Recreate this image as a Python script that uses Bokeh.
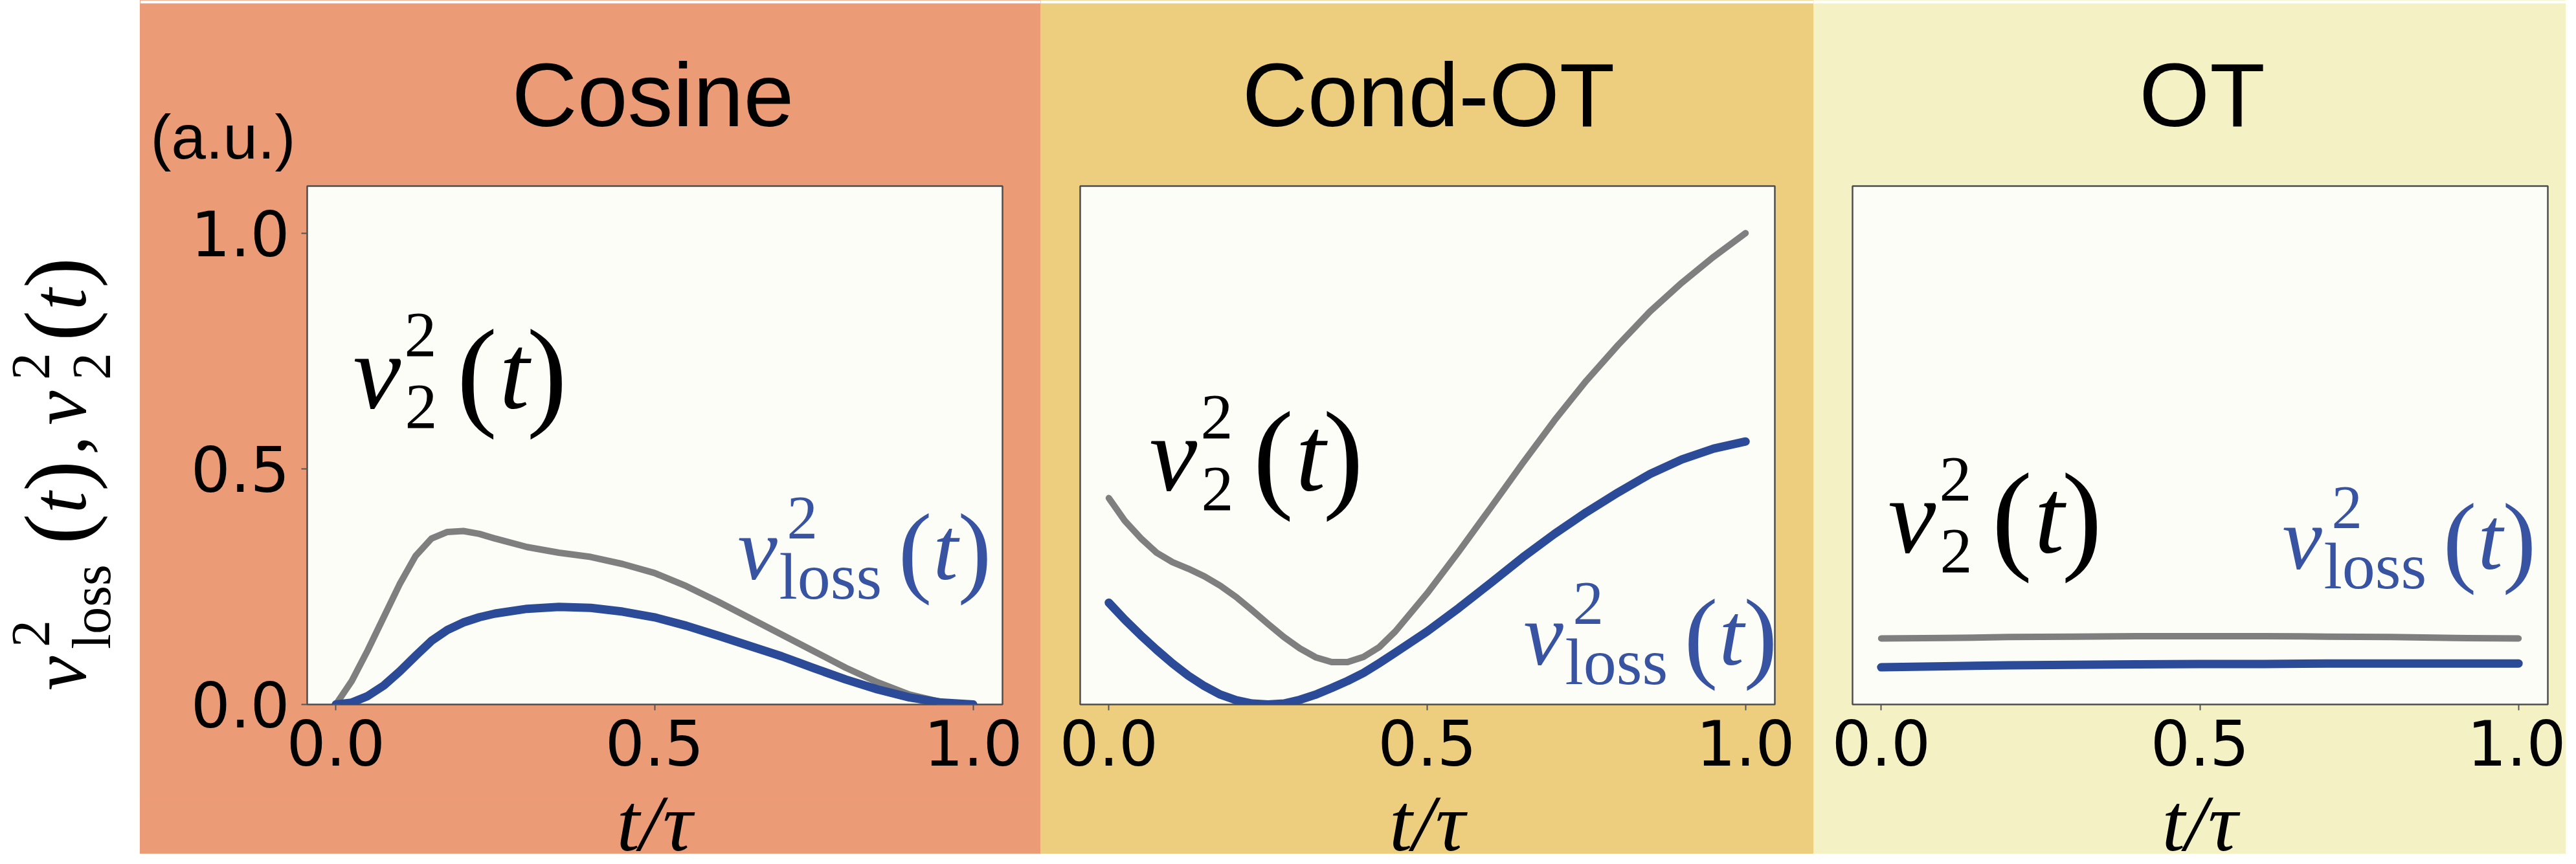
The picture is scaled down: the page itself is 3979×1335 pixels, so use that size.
from bokeh.plotting import figure
from bokeh.models import Label, Range1d, FixedTicker, Div, Spacer
from bokeh.layouts import row, column
from bokeh.embed import file_html
from bokeh.resources import INLINE

# ------------------------------------------------------------------ data
panel_titles = ["Cosine", "Cond-OT", "OT"]

t_cos = [0, 0.025, 0.05, 0.075, 0.1, 0.125, 0.15, 0.175, 0.2, 0.225, 0.25, 0.3, 0.35,
         0.4, 0.45, 0.5, 0.55, 0.6, 0.65, 0.7, 0.75, 0.8, 0.85, 0.9, 0.95, 1.0]
v2_cos = [0.0, 0.05, 0.115, 0.185, 0.255, 0.315, 0.352, 0.366, 0.368, 0.362, 0.352, 0.334, 0.322,
          0.313, 0.298, 0.279, 0.251, 0.218, 0.183, 0.148, 0.113, 0.078, 0.047, 0.021, 0.005, 0.0]
vloss_cos = [0.0, 0.004, 0.018, 0.04, 0.07, 0.103, 0.135, 0.158, 0.174, 0.185, 0.193, 0.203, 0.207,
             0.205, 0.197, 0.185, 0.167, 0.146, 0.124, 0.102, 0.077, 0.053, 0.032, 0.015, 0.004, 0.0]

t_cot = [0, 0.025, 0.05, 0.075, 0.1, 0.125, 0.15, 0.175, 0.2, 0.225, 0.25, 0.275, 0.3, 0.325,
         0.35, 0.375, 0.4, 0.425, 0.45, 0.5, 0.55, 0.6, 0.65, 0.7, 0.75, 0.8, 0.85, 0.9, 0.95, 1.0]
v2_cot = [0.438, 0.39, 0.353, 0.322, 0.302, 0.288, 0.272, 0.252, 0.228, 0.2, 0.171, 0.143, 0.119, 0.1,
          0.09, 0.09, 0.101, 0.122, 0.155, 0.236, 0.325, 0.418, 0.512, 0.603, 0.687, 0.763, 0.834,
          0.895, 0.95, 1.0]
vloss_cot = [0.216, 0.18, 0.147, 0.116, 0.087, 0.061, 0.039, 0.021, 0.009, 0.002, 0.0, 0.002, 0.01,
             0.021, 0.035, 0.05, 0.067, 0.088, 0.11, 0.155, 0.205, 0.258, 0.312, 0.362, 0.408, 0.45,
             0.489, 0.52, 0.543, 0.558]

t_ot = [0.0, 0.1, 0.2, 0.3, 0.4, 0.5, 0.6, 0.7, 0.8, 0.9, 1.0]
v2_ot = [0.140, 0.141, 0.143, 0.144, 0.145, 0.145, 0.145, 0.144, 0.143, 0.141, 0.140]
vloss_ot = [0.079, 0.081, 0.083, 0.084, 0.085, 0.086, 0.086, 0.087, 0.087, 0.087, 0.087]

x_ticks = [0.0, 0.5, 1.0]
x_tick_labels = ["0.0", "0.5", "1.0"]
y_ticks = [0.0, 0.5, 1.0]
y_tick_labels = ["0.0", "0.5", "1.0"]
x_axis_text = "t/τ"
y_unit_text = "(a.u.)"

# ------------------------------------------------------------------ style / layout
X_RANGE = (-0.045, 1.046)
Y_RANGE = (0.0, 1.1)
PAGE, TOP, MID, LOW, BOTTOM = 8, 13, 283, 1240, 1327   # window rows: titles / plots / x labels
GRAY = "#7f7f7f"
BLUE = "#2b4a97"
BLUE_TXT = "#3753a2"
FRAME_BG = "#fcfdf7"
SERIF = "Liberation Serif"
SANS = "Liberation Sans"
BASE_FIX = 0.23      # bokeh alphabetic baseline correction (fraction of font size)

specs = [
    dict(x0=224, x1=1615, fl=482, fr=1556, ft=295, fb=1102, bg="#ec9b77",
         black=(553, 622), blue=(1147, 892), title_x=1016),
    dict(x0=1615, x1=2809, fl=1676, fr=2749, ft=289, fb=1096, bg="#edce7e",
         black=(1783, 744), blue=(2361, 1019), title_x=2214),
    dict(x0=2809, x1=3971, fl=2869, fr=3943, ft=289, fb=1096, bg="#f4f2c4",
         black=(2924, 840), blue=(3533, 870), title_x=3409),
]
series = [(t_cos, v2_cos, vloss_cos), (t_cot, v2_cot, vloss_cot), (t_ot, v2_ot, vloss_ot)]


def to_data(sp, X, Y, xr, yr):
    x = xr[0] + (X - sp["fl"]) / (sp["fr"] - sp["fl"]) * (xr[1] - xr[0])
    y = yr[0] + (sp["fb"] - Y) / (sp["fb"] - sp["ft"]) * (yr[1] - yr[0])
    return x, y


def put(fig, sp, X, Y, text, size, color="black", font=SERIF, style="normal",
        align="left", xr=X_RANGE, yr=Y_RANGE):
    x, y = to_data(sp, X, Y - BASE_FIX * size, xr, yr)
    fig.add_layout(Label(x=x, y=y, text=text, text_font=font, text_font_size=f"{size}px",
                         text_font_style=style, text_color=color, text_align=align,
                         text_baseline="alphabetic"))


def v2_label(fig, sp, X0, Y0):
    F, S, P = 166, 100, 188
    put(fig, sp, X0, Y0, "v", F, style="italic")
    put(fig, sp, X0 + 79, Y0 - 72, "2", S)
    put(fig, sp, X0 + 80, Y0 + 40, "2", S)
    put(fig, sp, X0 + 160, Y0 + 6, "(", P)
    put(fig, sp, X0 + 226, Y0, "t", F, style="italic")
    put(fig, sp, X0 + 268, Y0 + 6, ")", P)


def vloss_label(fig, sp, X0, Y0):
    F, S, P = 138, 95, 156
    put(fig, sp, X0, Y0, "v", F, color=BLUE_TXT, style="italic")
    put(fig, sp, X0 + 76, Y0 - 58, "2", S, color=BLUE_TXT)
    put(fig, sp, X0 + 64, Y0 + 34, "loss", 102, color=BLUE_TXT)
    put(fig, sp, X0 + 248, Y0 + 5, "(", P, color=BLUE_TXT)
    put(fig, sp, X0 + 302, Y0, "t", F, color=BLUE_TXT, style="italic")
    put(fig, sp, X0 + 340, Y0 + 5, ")", P, color=BLUE_TXT)


def strip(width, height, bg, top_white=0):
    s = figure(width=width, height=height, x_range=Range1d(0, width),
               y_range=Range1d(0, height - top_white),
               title=None, output_backend="svg", toolbar_location=None,
               x_axis_type=None, y_axis_type=None, min_border=0, min_border_top=top_white)
    s.outline_line_color = None
    s.background_fill_color = bg
    s.border_fill_color = "white" if top_white else bg
    s.xgrid.visible = False
    s.ygrid.visible = False
    return s


top_cells = [Spacer(width=216, height=MID - PAGE, margin=0)]
plot_cells = []
low_cells = [Spacer(width=216, height=BOTTOM - LOW, margin=0)]
for i, sp in enumerate(specs):
    w = sp["x1"] - sp["x0"]
    xc = sp["fl"] + (0.5 - X_RANGE[0]) / (X_RANGE[1] - X_RANGE[0]) * (sp["fr"] - sp["fl"])

    # ---- top strip (white band + coloured title area)
    ts = strip(w, MID - PAGE, sp["bg"], top_white=TOP - PAGE)
    tsp = dict(fl=sp["x0"], fr=sp["x1"], ft=TOP, fb=MID)
    sxr, syr = (0, w), (0, MID - TOP)
    put(ts, tsp, sp["title_x"], 186, panel_titles[i], 140, font=SANS, align="center", xr=sxr, yr=syr)
    if i == 0:
        put(ts, tsp, 240, 241, y_unit_text, 96, font=SANS, xr=sxr, yr=syr)
    top_cells.append(ts)

    # ---- bottom strip with the x-axis label
    bs = strip(w, BOTTOM - LOW, sp["bg"])
    bsp = dict(fl=sp["x0"], fr=sp["x1"], ft=LOW, fb=BOTTOM)
    put(bs, bsp, xc, 1308, x_axis_text, 128, style="italic", align="center",
        xr=sxr, yr=(0, BOTTOM - LOW))
    low_cells.append(bs)

    # ---- plot
    p = figure(width=w, height=LOW - MID, title=None,
               x_range=Range1d(*X_RANGE), y_range=Range1d(*Y_RANGE),
               output_backend="svg", toolbar_location=None,
               min_border_left=sp["fl"] - sp["x0"], min_border_right=sp["x1"] - sp["fr"],
               min_border_top=sp["ft"] - MID, min_border_bottom=LOW - sp["fb"])
    p.background_fill_color = FRAME_BG
    p.border_fill_color = sp["bg"]
    p.outline_line_color = "#4d4d4d"
    p.outline_line_width = 2.5
    p.xgrid.visible = False
    p.ygrid.visible = False
    for ax in (p.xaxis[0], p.yaxis[0]):
        ax.axis_line_color = None
        ax.major_tick_line_color = "#555555"
        ax.major_tick_line_width = 2
        ax.major_tick_out = 9
        ax.major_tick_in = 0
        ax.minor_tick_line_color = None
        ax.major_label_text_font = "DejaVu Sans"
        ax.major_label_text_font_size = "96px"
        ax.major_label_text_color = "black"
    p.xaxis.ticker = FixedTicker(ticks=x_ticks)
    p.xaxis.major_label_overrides = dict(zip(x_ticks, x_tick_labels))
    p.xaxis.major_label_standoff = 14
    p.yaxis.ticker = FixedTicker(ticks=y_ticks)
    p.yaxis.major_label_overrides = dict(zip(y_ticks, y_tick_labels))
    p.yaxis.major_label_standoff = 18
    if i > 0:
        p.yaxis.visible = False

    t, v2, vl = series[i]
    p.line(t, v2, line_color=GRAY, line_width=10, line_cap="round", line_join="round")
    p.line(t, vl, line_color=BLUE, line_width=13, line_cap="round", line_join="round")
    v2_label(p, sp, *sp["black"])
    vloss_label(p, sp, *sp["blue"])
    plot_cells.append(p)

# ---- rotated y-axis label (white strip on the left), drawn as real HTML text
ASC = 0.3375   # baseline position of a line-height:0 box, fraction of font size
F, S, P = 120, 84, 142
y_pieces = [  # (text, along-text offset, offset upward from baseline, size, italic)
    ("v", 0, 0, F, True), ("2", 67, 56, S, False), ("loss", 64, -38, S, False),
    ("(", 226, -4, P, False), ("t", 274, 0, F, True), (")", 308, -4, P, False),
    (",", 364, 0, F, False), ("v", 410, 0, F, True), ("2", 480, 56, S, False),
    ("2", 480, -38, S, False), ("(", 540, -4, P, False), ("t", 588, 0, F, True),
    (")", 622, -4, P, False),
]
spans = "".join(
    f'<span style="position:absolute;left:{dx}px;top:{-dy - ASC * sz:.1f}px;line-height:0;'
    f'font-size:{sz}px;white-space:nowrap;font-style:{"italic" if it else "normal"}">{tx}</span>'
    for tx, dx, dy, sz, it in y_pieces)
ax_x, ax_y = 140 - PAGE, 1075 - MID
y_html = (f'<div style="position:relative;width:216px;height:{LOW - MID}px;'
          f'font-family:\'{SERIF}\';color:black;">'
          f'<div style="position:absolute;left:{ax_x}px;top:{ax_y}px;width:0;height:0;'
          f'transform:rotate(-90deg);transform-origin:0 0;">{spans}</div></div>')
ylab = Div(text=y_html, width=216, height=LOW - MID, margin=0)

# background behind the rows so that no sub-pixel seam shows between them
edges = [0, 216] + [sp["x1"] - 224 + 216 for sp in specs]
cols = ["#ffffff"] + [sp["bg"] for sp in specs]
stops = ", ".join(f"{c} {a}px, {c} {b}px" for c, a, b in zip(cols, edges[:-1], edges[1:]))
layout = column(row(*top_cells), row(ylab, *plot_cells), row(*low_cells),
                styles={"background": f"linear-gradient(to right, {stops})"})
open("out.html", "w").write(file_html(layout, INLINE))
